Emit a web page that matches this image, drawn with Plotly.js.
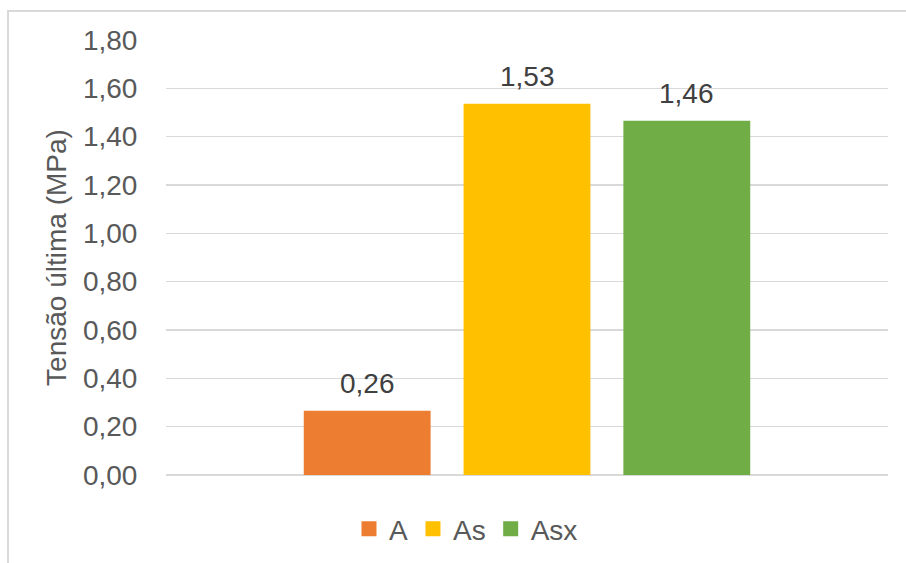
<!DOCTYPE html>
<html>
<head>
<meta charset="utf-8">
<script src="https://cdn.plot.ly/plotly-3.0.1.min.js"></script>
<style>
  html, body { margin: 0; padding: 0; background: #ffffff; }
  #frame { position: absolute; left: 7px; top: 10px; width: 1000px; height: 1000px;
           border-left: 2px solid #d9d9d9; border-top: 2px solid #d9d9d9; box-sizing: border-box; }
  #chart { position: absolute; left: 0; top: 0; width: 906px; height: 563px; }
</style>
</head>
<body>
<div id="frame"></div>
<div id="chart"></div>
<script>
const category = [''];
const seriesNames = ['A', 'As', 'Asx'];
const seriesValues = [[0.26], [1.53], [1.46]];
const seriesColors = ['#ED7D31', '#FFC000', '#70AD47'];
const yTitle = 'Tensão última (MPa)';

const font = 'Liberation Sans, Arial, sans-serif';
const bargap = 0.336;
const slot = (1 - bargap) / seriesNames.length;

const traces = seriesNames.map((name, i) => ({
  type: 'bar',
  name: name,
  x: category,
  y: seriesValues[i],
  marker: { color: seriesColors[i], line: { color: seriesColors[i], width: 3 } },
  hoverinfo: 'none'
}));

const annotations = seriesNames.map((name, i) => ({
  x: 0 + (i - (seriesNames.length - 1) / 2) * slot,
  y: seriesValues[i][0],
  xref: 'x', yref: 'y',
  text: seriesValues[i][0].toFixed(2).replace('.', ','),
  showarrow: false,
  xanchor: 'center', yanchor: 'bottom',
  yshift: 11,
  font: { family: font, size: 28, color: '#404040' }
}));

const layout = {
  width: 906,
  height: 563,
  paper_bgcolor: 'rgba(0,0,0,0)',
  plot_bgcolor: 'rgba(0,0,0,0)',
  separators: ',.',
  margin: { l: 166, r: 18, t: 40, b: 88, autoexpand: false },
  barmode: 'group',
  bargap: bargap,
  bargroupgap: 0.225,
  showlegend: true,
  legend: {
    orientation: 'h', x: 0.4155, xanchor: 'center', y: -0.124, yanchor: 'middle',
    font: { family: font, size: 28, color: '#595959' },
    itemclick: false, itemdoubleclick: false
  },
  annotations: annotations,
  xaxis: {
    type: 'category',
    range: [-0.5, 0.5],
    showticklabels: false,
    showgrid: false,
    zeroline: false,
    showline: false,
    ticks: ''
  },
  yaxis: {
    range: [0, 1.8],
    dtick: 0.2,
    tick0: 0,
    tickformat: '.2f',
    showgrid: true,
    gridcolor: '#d9d9d9',
    gridwidth: 1.5,
    zeroline: true,
    zerolinecolor: '#d9d9d9',
    zerolinewidth: 1.5,
    showline: false,
    ticks: 'outside',
    ticklen: 22,
    tickcolor: 'rgba(0,0,0,0)',
    tickfont: { family: font, size: 28, color: '#595959' },
    title: { text: yTitle, font: { family: font, size: 28, color: '#595959' }, standoff: 8 }
  }
};

Plotly.newPlot('chart', traces, layout, { displayModeBar: false, staticPlot: true });
</script>
</body>
</html>
